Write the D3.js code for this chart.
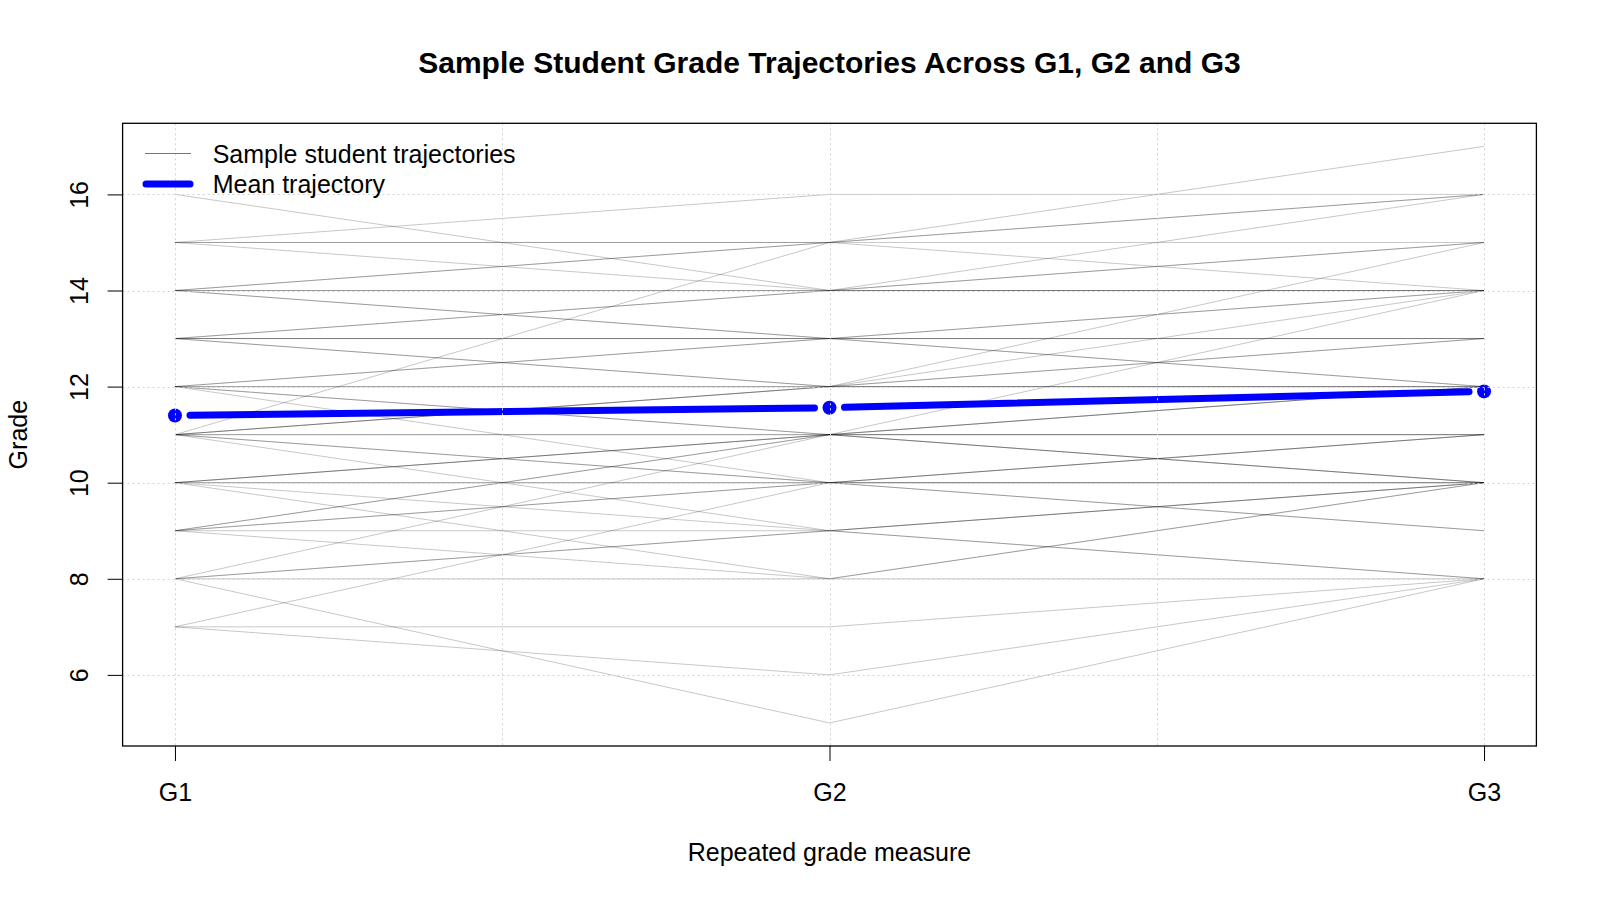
<!DOCTYPE html>
<html>
<head>
<meta charset="utf-8">
<script src="https://cdn.jsdelivr.net/npm/d3@7"></script>
<style>
  body { margin: 0; background: #fff; }
  text { font-family: "Liberation Sans", Arial, sans-serif; fill: #000; }
</style>
</head>
<body>
<svg id="chart" width="1600" height="900"></svg>
<script>
// grade measures on the x axis
var measures = ["G1", "G2", "G3"];

// sample student trajectories, one entry per student
var g1 = [15,15,15,14,14,11,16,15,13,13,14,14,14,14,13,13,13,12,12,13,13,12,12,11,11,11,12,12,11,11,10,10,10,9,9,8,12,11,11,10,10,9,9,7,11,10,9,8,8,10,9,8,7,7,8];
var g2 = [16,15,15,15,15,15,14,14,14,14,14,14,13,13,13,13,13,13,13,12,12,12,12,12,12,12,11,11,11,11,11,11,11,11,11,11,10,10,10,10,10,10,10,10,9,9,9,9,9,8,8,8,7,6,5];
var g3 = [16,17,16,16,15,14,16,15,15,14,14,14,14,14,13,13,13,12,12,15,14,13,13,12,12,12,14,12,12,12,11,11,11,10,10,10,11,11,11,10,10,10,9,9,10,10,10,8,8,10,10,8,8,8,8];

// mean trajectory
var meanGrades = [11.40, 11.56, 11.90];

var yTicks = [6, 8, 10, 12, 14, 16];
var xGrid = [1, 1.5, 2, 2.5, 3];
var legendLabels = ["Sample student trajectories", "Mean trajectory"];

var svg = d3.select("#chart");

var plotL = 122.6, plotR = 1536.4, plotT = 123.3, plotB = 746;
var x = d3.scaleLinear().domain([0.92, 3.08]).range([plotL, plotR]);
var y = d3.scaleLinear().domain([4.52, 17.48]).range([plotB, plotT]);

var students = g1.map(function(d, i) { return [g1[i], g2[i], g3[i]]; });

var line = d3.line()
  .x(function(d, i) { return x(i + 1); })
  .y(function(d) { return y(d); });

// trajectories, translucent so overlaps get darker
svg.append("g")
  .selectAll("path")
  .data(students)
  .enter()
  .append("path")
  .attr("d", line)
  .attr("fill", "none")
  .attr("stroke", "#000")
  .attr("stroke-opacity", 0.22)
  .attr("stroke-width", 1);

// mean line, type "b": segments stop short of the points
var gap = 15;
var meanPts = meanGrades.map(function(v, i) { return [x(i + 1), y(v)]; });
var meanG = svg.append("g");
for (var i = 0; i < meanPts.length - 1; i++) {
  var a = meanPts[i], b = meanPts[i + 1];
  var dx = b[0] - a[0], dy = b[1] - a[1];
  var len = Math.sqrt(dx * dx + dy * dy);
  meanG.append("line")
    .attr("x1", a[0] + dx / len * gap)
    .attr("y1", a[1] + dy / len * gap)
    .attr("x2", b[0] - dx / len * gap)
    .attr("y2", b[1] - dy / len * gap)
    .attr("stroke", "#0000ff")
    .attr("stroke-width", 7)
    .attr("stroke-linecap", "round");
}
meanG.selectAll("circle")
  .data(meanGrades)
  .enter()
  .append("circle")
  .attr("cx", function(d, i) { return x(i + 1); })
  .attr("cy", function(d) { return y(d); })
  .attr("r", 7)
  .attr("fill", "#0000ff");

// grid on top, like grid() after the lines
var grid = svg.append("g")
  .attr("stroke", "#d3d3d3")
  .attr("stroke-width", 1)
  .attr("stroke-dasharray", "2,3");
grid.selectAll(".gx")
  .data(xGrid)
  .enter()
  .append("line")
  .attr("x1", function(d) { return Math.round(x(d)) + 0.5; })
  .attr("x2", function(d) { return Math.round(x(d)) + 0.5; })
  .attr("y1", plotT)
  .attr("y2", plotB);
grid.selectAll(".gy")
  .data(yTicks)
  .enter()
  .append("line")
  .attr("x1", plotL)
  .attr("x2", plotR)
  .attr("y1", function(d) { return Math.round(y(d)) + 0.5; })
  .attr("y2", function(d) { return Math.round(y(d)) + 0.5; });

// axes
var xAxis = svg.append("g")
  .attr("transform", "translate(0," + plotB + ")")
  .call(d3.axisBottom(x)
    .tickValues([1, 2, 3])
    .tickFormat(function(d) { return measures[d - 1]; })
    .tickSize(15)
    .tickPadding(22));
xAxis.select(".domain").remove();
xAxis.selectAll("text").attr("font-size", 25).style("font-family", "Liberation Sans, Arial, sans-serif");
xAxis.selectAll("line").attr("stroke", "#000");

var yAxis = svg.append("g")
  .attr("transform", "translate(" + plotL + ",0)")
  .call(d3.axisLeft(y).tickValues(yTicks).tickSize(15));
yAxis.select(".domain").remove();
yAxis.selectAll("line").attr("stroke", "#000");
yAxis.selectAll("text")
  .attr("x", null)
  .attr("dy", null)
  .attr("text-anchor", "middle")
  .attr("transform", "translate(-35,0) rotate(-90)")
  .attr("font-size", 25)
  .style("font-family", "Liberation Sans, Arial, sans-serif");

// box
svg.append("rect")
  .attr("x", plotL)
  .attr("y", plotT)
  .attr("width", plotR - plotL)
  .attr("height", plotB - plotT)
  .attr("fill", "none")
  .attr("stroke", "#000")
  .attr("stroke-width", 1.3);

// titles
svg.append("text")
  .attr("x", (plotL + plotR) / 2)
  .attr("y", 73)
  .attr("text-anchor", "middle")
  .attr("font-size", 30)
  .attr("font-weight", "bold")
  .text("Sample Student Grade Trajectories Across G1, G2 and G3");

svg.append("text")
  .attr("x", (plotL + plotR) / 2)
  .attr("y", 861)
  .attr("text-anchor", "middle")
  .attr("font-size", 25)
  .text("Repeated grade measure");

svg.append("text")
  .attr("transform", "translate(27," + (plotT + plotB) / 2 + ") rotate(-90)")
  .attr("text-anchor", "middle")
  .attr("font-size", 25)
  .text("Grade");

// legend, no box
var legend = svg.append("g");
var legendRows = [
  { y: 153.5, stroke: "#777", width: 1, x1: 145, x2: 191 },
  { y: 184, stroke: "#0000ff", width: 7, x1: 146, x2: 190 }
];
legend.selectAll("line")
  .data(legendRows)
  .enter()
  .append("line")
  .attr("x1", function(d) { return d.x1; })
  .attr("x2", function(d) { return d.x2; })
  .attr("y1", function(d) { return d.y; })
  .attr("y2", function(d) { return d.y; })
  .attr("stroke", function(d) { return d.stroke; })
  .attr("stroke-width", function(d) { return d.width; })
  .attr("stroke-linecap", function(d) { return d.width > 1 ? "round" : "butt"; });
legend.selectAll("text")
  .data(legendLabels)
  .enter()
  .append("text")
  .attr("x", 212.7)
  .attr("y", function(d, i) { return legendRows[i].y + 9; })
  .attr("font-size", 25)
  .text(function(d) { return d; });
</script>
</body>
</html>
